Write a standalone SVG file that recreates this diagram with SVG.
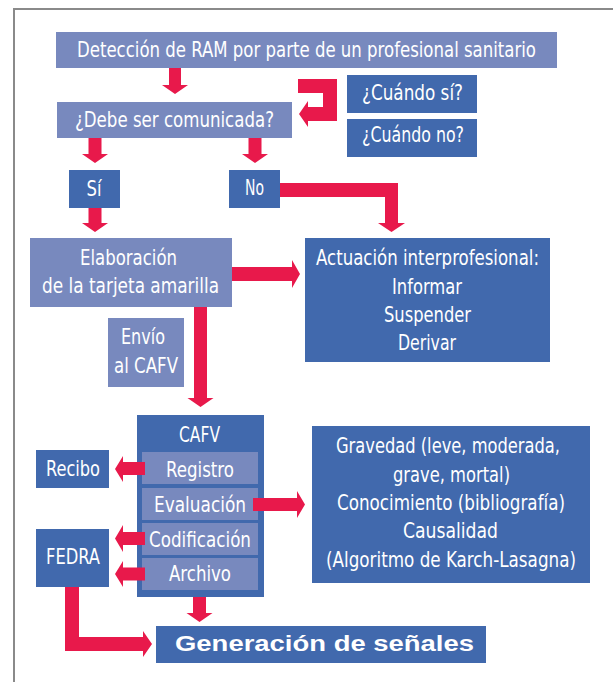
<svg xmlns="http://www.w3.org/2000/svg" width="613" height="682" viewBox="0 0 613 682">
<style>
.lt{fill:#7889be}
.dk{fill:#4169ad}
.ar{fill:#e8194b}
text{fill:#ffffff;font-family:"Liberation Sans Narrow","DejaVu Sans Condensed","Liberation Sans",sans-serif;font-size:21px;text-anchor:middle}
.gen{font-family:"Liberation Sans",Arial,sans-serif;font-weight:bold;font-size:22px}
</style>
<rect width="613" height="682" fill="#ffffff"/>
<path d="M14,682 V9 H613" fill="none" stroke="#8a8a8a" stroke-width="2"/>
<g id="n-deteccion"><rect class="lt" x="56" y="32" width="501" height="36"/><text x="306.5" y="57" textLength="459" lengthAdjust="spacingAndGlyphs">Detección de RAM por parte de un profesional sanitario</text></g>
<g id="n-debe"><rect class="lt" x="57" y="102" width="235" height="36"/><text x="174.5" y="127" textLength="199" lengthAdjust="spacingAndGlyphs">¿Debe ser comunicada?</text></g>
<g id="n-cuandosi"><rect class="dk" x="347" y="75" width="130" height="38"/><text x="412.5" y="100" textLength="101" lengthAdjust="spacingAndGlyphs">¿Cuándo sí?</text></g>
<g id="n-cuandono"><rect class="dk" x="347" y="119" width="130" height="38"/><text x="413" y="142" textLength="102" lengthAdjust="spacingAndGlyphs">¿Cuándo no?</text></g>
<g id="n-si"><rect class="dk" x="69" y="170" width="51" height="38"/><text x="94" y="196" textLength="15" lengthAdjust="spacingAndGlyphs">Sí</text></g>
<g id="n-no"><rect class="dk" x="229" y="170" width="51" height="38"/><text x="254.5" y="195" textLength="19" lengthAdjust="spacingAndGlyphs">No</text></g>
<g id="n-elaboracion"><rect class="lt" x="30" y="238" width="202" height="69"/><text x="128.5" y="265" textLength="97" lengthAdjust="spacingAndGlyphs">Elaboración</text><text x="130.5" y="293" textLength="177" lengthAdjust="spacingAndGlyphs">de la tarjeta amarilla</text></g>
<g id="n-actuacion"><rect class="dk" x="305" y="238" width="245" height="124"/><text x="427.5" y="265" textLength="223" lengthAdjust="spacingAndGlyphs">Actuación interprofesional:</text><text x="427" y="294" textLength="70" lengthAdjust="spacingAndGlyphs">Informar</text><text x="427.5" y="322" textLength="87" lengthAdjust="spacingAndGlyphs">Suspender</text><text x="427" y="350" textLength="58" lengthAdjust="spacingAndGlyphs">Derivar</text></g>
<g id="n-envio"><rect class="lt" x="108" y="318" width="76" height="69"/><text x="143" y="344" textLength="44" lengthAdjust="spacingAndGlyphs">Envío</text><text x="146" y="373" textLength="64" lengthAdjust="spacingAndGlyphs">al CAFV</text></g>
<g id="n-cafv"><rect class="dk" x="137" y="415" width="127" height="182"/><text x="199.5" y="442" textLength="41" lengthAdjust="spacingAndGlyphs">CAFV</text></g>
<g id="n-registro"><rect class="lt" x="142" y="452" width="116" height="32"/><text x="200" y="477" textLength="68" lengthAdjust="spacingAndGlyphs">Registro</text></g>
<g id="n-evaluacion"><rect class="lt" x="142" y="488" width="116" height="32"/><text x="200" y="512" textLength="92" lengthAdjust="spacingAndGlyphs">Evaluación</text></g>
<g id="n-codificacion"><rect class="lt" x="142" y="523" width="116" height="32"/><text x="200" y="547" textLength="102" lengthAdjust="spacingAndGlyphs">Codificación</text></g>
<g id="n-archivo"><rect class="lt" x="142" y="558" width="116" height="32"/><text x="200" y="581" textLength="62" lengthAdjust="spacingAndGlyphs">Archivo</text></g>
<g id="n-recibo"><rect class="dk" x="36" y="450" width="73" height="38"/><text x="73" y="476" textLength="54" lengthAdjust="spacingAndGlyphs">Recibo</text></g>
<g id="n-fedra"><rect class="dk" x="36" y="529" width="73" height="58"/><text x="73" y="564" textLength="54" lengthAdjust="spacingAndGlyphs">FEDRA</text></g>
<g id="n-gravedad"><rect class="dk" x="312" y="426" width="278" height="157"/><text x="448" y="453" textLength="224" lengthAdjust="spacingAndGlyphs">Gravedad (leve, moderada,</text><text x="451.5" y="482" textLength="117" lengthAdjust="spacingAndGlyphs">grave, mortal)</text><text x="451" y="510" textLength="228" lengthAdjust="spacingAndGlyphs">Conocimiento (bibliografía)</text><text x="450.5" y="538" textLength="95" lengthAdjust="spacingAndGlyphs">Causalidad</text><text x="451" y="567" textLength="250" lengthAdjust="spacingAndGlyphs">(Algoritmo de Karch-Lasagna)</text></g>
<g id="n-generacion"><rect class="dk" x="156" y="626" width="330" height="37"/><text class="gen" x="324.5" y="651" textLength="299" lengthAdjust="spacingAndGlyphs">Generación de señales</text></g>
<g id="connectors" class="ar">
<polygon points="169,68 181,68 181,85 188,85 175,94 162,85 169,85"/>
<polygon points="298,79 337,79 337,121 308,121 308,127 299,114 308,101 308,107 323,107 323,93 298,93"/>
<polygon points="88.5,138 101.5,138 101.5,154 108,154 95,163 82,154 88.5,154"/>
<polygon points="248.5,138 261.5,138 261.5,154 268,154 255,163 242,154 248.5,154"/>
<polygon points="88.5,208 101.5,208 101.5,223 108,223 95,232 82,223 88.5,223"/>
<polygon points="280,183 398,183 398,223 405,223 391.5,232 378,223 385,223 385,197 280,197"/>
<polygon points="232,267 292,267 292,260 300,274 292,288 292,281 232,281"/>
<polygon points="194,307 207,307 207,398 213.5,398 200.5,407 187.5,398 194,398"/>
<polygon points="145,462 123,462 123,456 115,469 123,482 123,475 145,475"/>
<polygon points="253,498 297,498 297,491 305,504.5 297,518 297,511 253,511"/>
<polygon points="145,532 123,532 123,525 115,538.5 123,552 123,545 145,545"/>
<polygon points="145,567.5 123,567.5 123,561 115,574 123,587 123,580.5 145,580.5"/>
<polygon points="193,597 206,597 206,613 212.5,613 199.5,622 186.5,613 193,613"/>
<polygon points="65,587 79,587 79,637 143,637 143,631 152,644 143,657 143,651 65,651"/>
</g>
</svg>
